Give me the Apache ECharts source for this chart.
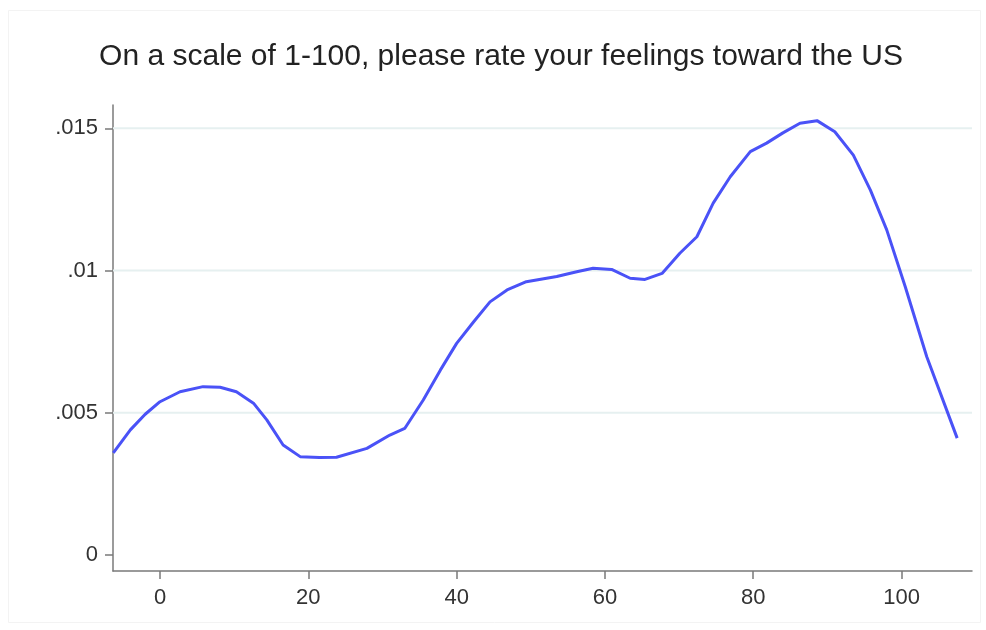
<!DOCTYPE html>
<html>
<head>
<meta charset="utf-8">
<script src="https://cdn.jsdelivr.net/npm/echarts@6/dist/echarts.min.js"></script>
<style>html,body{margin:0;padding:0;background:#fff}#c{width:986px;height:630px}</style>
</head>
<body>
<div id="c"></div>
<script>
var titleText = 'On a scale of 1-100, please rate your feelings toward the US';
var xValues = [-6.3,-4.0,-2.0,0,2.7,5.8,8.1,10.3,12.6,14.4,16.6,18.9,21.5,23.8,27.9,31.0,33.0,35.5,37.8,40.0,42.3,44.5,46.8,49.4,53.5,56.2,58.4,60.9,63.4,65.4,67.7,70.1,72.4,74.6,76.9,79.6,81.8,84.0,86.3,88.6,91.0,93.5,95.8,98.0,100.5,103.4,107.5];
var densityValues = [0.00359,0.0044,0.00495,0.00539,0.00574,0.00592,0.0059,0.00574,0.00534,0.00475,0.00387,0.00346,0.00343,0.00344,0.00375,0.00422,0.00445,0.00545,0.0065,0.00744,0.0082,0.0089,0.00932,0.00961,0.00979,0.00996,0.01008,0.01004,0.00973,0.00969,0.0099,0.01061,0.01119,0.01237,0.0133,0.01418,0.01448,0.01484,0.01518,0.01527,0.01488,0.01406,0.01283,0.01143,0.00943,0.00697,0.00411];
var xTicks = [0,20,40,60,80,100];
var yTicks = [0,0.005,0.01,0.015];
var yTickLabels = ['0','.005','.01','.015'];

var X_MIN = -6.34, X_MAX = 109.5;
var pts = xValues.map(function(x,i){return [x, densityValues[i]];});
var chart = echarts.init(document.getElementById('c'), null, {renderer:'canvas'});
var axisGray = '#7a7a7a';
var textCol = '#333333';
var gridSeries = yTicks.slice(1).map(function(t){
  return {type:'line', data:[[X_MIN,t],[X_MAX,t]], showSymbol:false, silent:true, z:1,
    lineStyle:{color:'#e6f0f0', width:2}, clip:true};
});
chart.setOption({
  animation: false,
  backgroundColor: '#ffffff',
  title: {
    text: titleText, left: 496, top: 37, textAlign: 'center',
    textStyle: {fontFamily: 'Liberation Sans', fontSize: 30, fontWeight: 'normal', color: '#222'}
  },
  graphic: [{type:'rect', shape:{x:8.5,y:10.5,width:972,height:612}, style:{fill:'none', stroke:'#f3f3f3', lineWidth:1}, silent:true, z:-10}],
  grid: {left: 113, right: 14, top: 105, bottom: 59, containLabel: false},
  xAxis: {
    type: 'value', min: X_MIN, max: X_MAX,
    axisLine: {show: true, onZero: false, lineStyle: {color: axisGray, width: 1.5}},
    axisTick: {show: true, length: 8, customValues: xTicks, lineStyle: {color: axisGray, width: 1.5}},
    axisLabel: {customValues: xTicks, margin: 16, color: textCol, fontFamily: 'Liberation Sans', fontSize: 22},
    splitLine: {show: false}
  },
  yAxis: {
    type: 'value', min: -0.00056, max: 0.01582,
    axisLine: {show: true, onZero: false, lineStyle: {color: axisGray, width: 1.5}},
    axisTick: {show: true, length: 8, customValues: yTicks, lineStyle: {color: axisGray, width: 1.5}},
    axisLabel: {customValues: yTicks, margin: 15, color: textCol, fontFamily: 'Liberation Sans', fontSize: 22,
      formatter: function(v){ var i = yTicks.findIndex(function(t){return Math.abs(t-v)<1e-9;}); return i>=0 ? yTickLabels[i] : ''; }},
    splitLine: {show: false}
  },
  series: gridSeries.concat([{
    type: 'line', data: pts, showSymbol: false, smooth: false,
    lineStyle: {color: '#4a52f7', width: 3},
    z: 3
  }])
});
</script>
</body>
</html>
